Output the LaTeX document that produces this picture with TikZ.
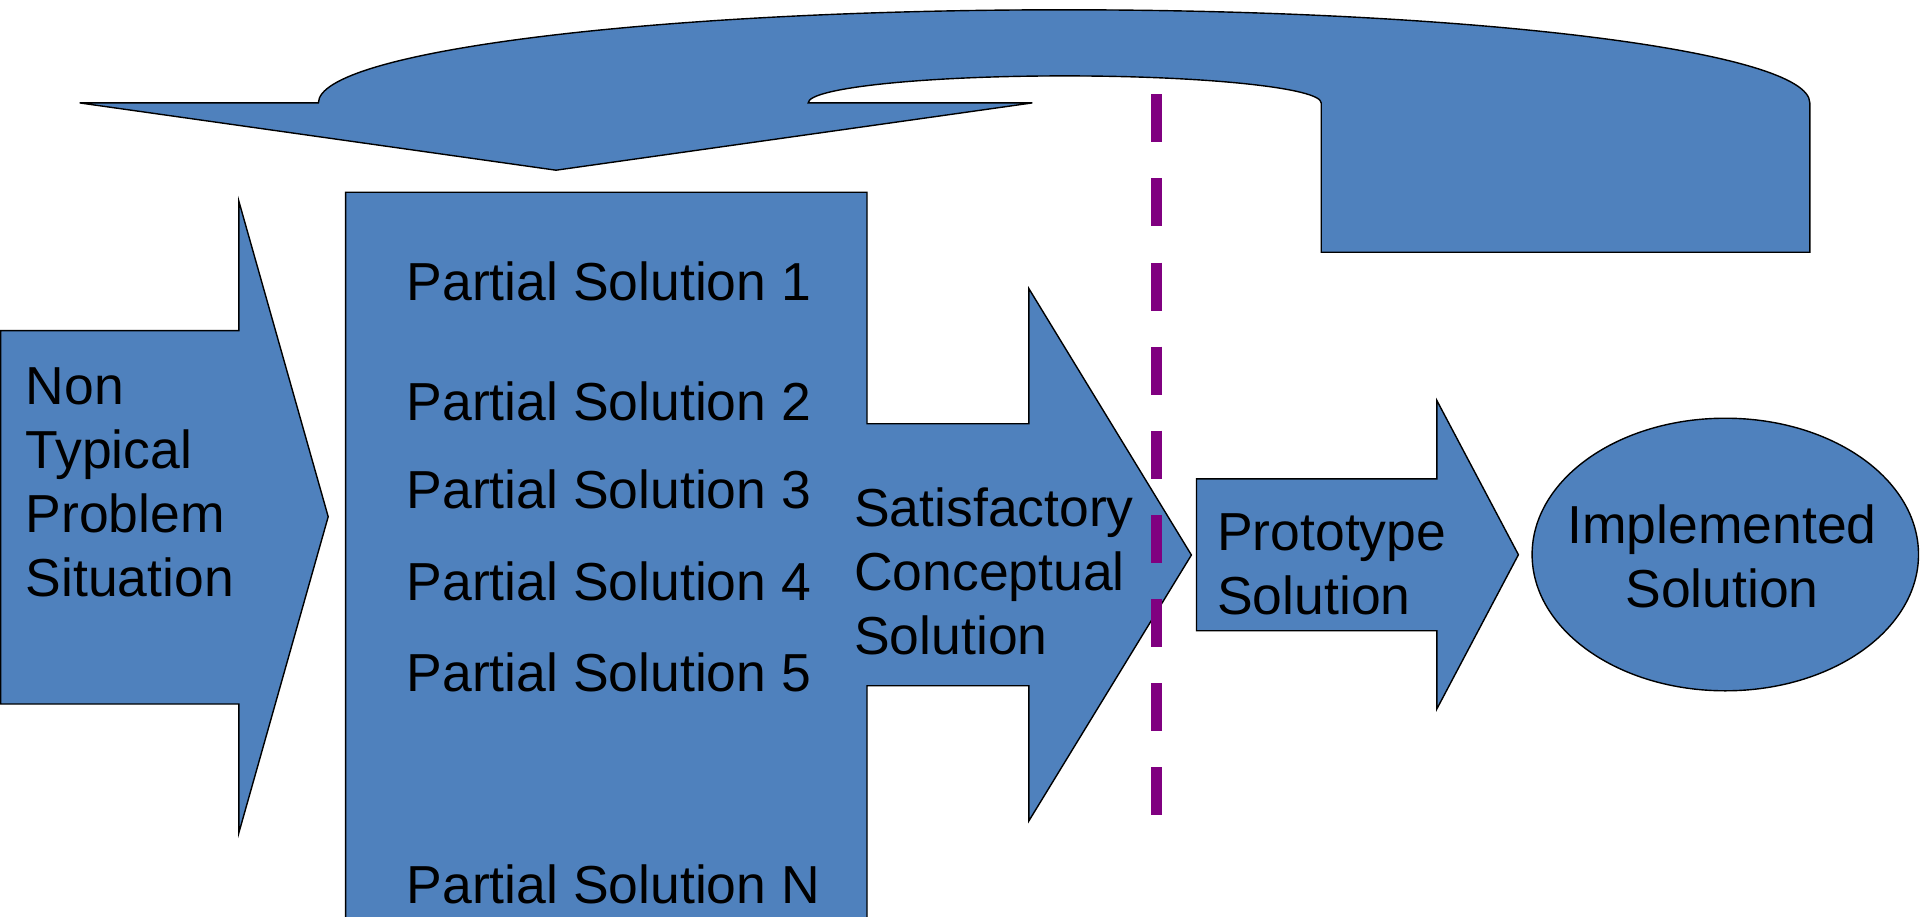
\documentclass[tikz,border=0pt]{standalone}
\usepackage{fontspec}
\setmainfont{Liberation Sans}
\definecolor{shapeblue}{RGB}{79,129,189}
\definecolor{markpurple}{RGB}{128,0,128}

\begin{document}
\begin{tikzpicture}[x=1pt,y=-1pt,
  blockfill/.style={fill=shapeblue, draw=black, line width=1.4pt, line join=miter},
  txt/.style={font=\fontsize{53.5}{64}\selectfont, inner sep=0pt, align=left, anchor=north west},
  psol/.style={font=\fontsize{53.5}{64}\selectfont, inner sep=0pt, anchor=base west},
  divider/.style={draw=markpurple, line width=11.5pt, dash pattern=on 48pt off 36.1pt},
]
\useasboundingbox (0,0) rectangle (1920,916);

% U-turn feedback arrow along the top
\path[blockfill] (79.6,102.9) -- (318.4,102.9)
  arc[start angle=180, end angle=360, x radius=745.7, y radius=93.1]
  -- (1809.8,252.2) -- (1321.2,252.2) -- (1321.2,102.9)
  arc[start angle=0, end angle=-180, x radius=256.5, y radius=27]
  -- (1032.3,102.9) -- (556,170.2) -- cycle;

% input arrow
\path[blockfill] (0.6,330.6) -- (238.8,330.6) -- (238.8,201) -- (328.2,516.7)
  -- (238.8,833) -- (238.8,704) -- (0.6,704) -- cycle;

% block of partial solutions merged with the conceptual-solution arrow
\path[blockfill] (345.6,192.2) -- (867,192.2) -- (867,423.7) -- (1028.8,423.7)
  -- (1028.8,288.5) -- (1191.4,555) -- (1028.8,821) -- (1028.8,685.7)
  -- (867,685.7) -- (867,940) -- (345.6,940) -- cycle;

% prototype arrow
\path[blockfill] (1196.5,478.8) -- (1436.8,478.8) -- (1436.8,400.4) -- (1518.4,554.7)
  -- (1436.8,709) -- (1436.8,630.7) -- (1196.5,630.7) -- cycle;

% final result
\path[blockfill] (1725.3,554.5) ellipse[x radius=193.2, y radius=136.3];

% dashed boundary
\coordinate (dtop) at (1156.6,94.3);
\coordinate (dbot) at (1156.6,815);
\draw[divider] (dtop) -- (dbot);

% labels
\node[txt] (nontypical) at (25.5,367) {Non\\Typical\\Problem\\Situation};
\node[psol] (ps1) at (406.5,300) {Partial Solution 1};
\node[psol] (ps2) at (406.5,420.4) {Partial Solution 2};
\node[psol] (ps3) at (406.5,508.6) {Partial Solution 3};
\node[psol] (ps4) at (406.5,600) {Partial Solution 4};
\node[psol] (ps5) at (406.5,691.7) {Partial Solution 5};
\node[psol] (psn) at (406.5,903.5) {Partial Solution N};
\node[txt] (concept) at (854,487.5) {Satisfactory\\Conceptual\\Solution};
\node[txt] (proto) at (1217,513) {Prototype\\Solution};
\node[txt, align=center, anchor=north] (impl) at (1722,504.4) {Implemented\\Solution};
\end{tikzpicture}
\end{document}
